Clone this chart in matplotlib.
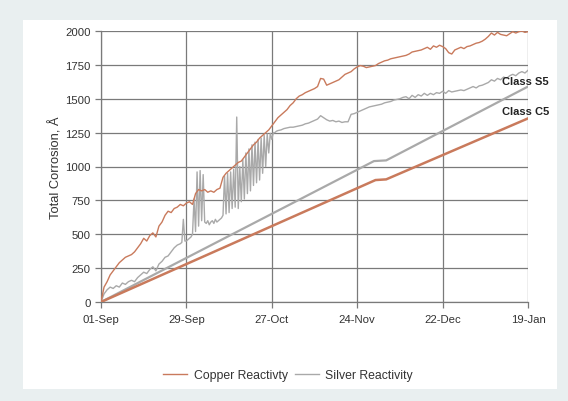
import matplotlib
matplotlib.use("Agg")
import matplotlib.pyplot as plt
from matplotlib.patches import Rectangle

plt.rcParams['font.family'] = ['Liberation Sans', 'DejaVu Sans']

# Daily copper readings, days since 01-Sep
copper = [0, 110, 150, 200, 230, 260, 290, 310, 330, 340,
          350, 370, 400, 430, 470, 450, 490, 510, 480, 560,
          590, 640, 670, 660, 690, 700, 720, 710, 730, 740,
          720, 800, 830, 820, 830, 810, 820, 810, 830, 840,
          920, 950, 970, 990, 1010, 1030, 1040, 1070, 1100, 1130,
          1160, 1180, 1210, 1230, 1250, 1270, 1300, 1330, 1360, 1380,
          1400, 1420, 1450, 1470, 1500, 1520, 1530, 1545, 1555, 1565,
          1575, 1590, 1650, 1645, 1600, 1610, 1620, 1630, 1640, 1660,
          1680, 1690, 1700, 1720, 1735, 1745, 1740, 1730, 1735, 1740,
          1745, 1760, 1770, 1780, 1785, 1795, 1800, 1805, 1810, 1815,
          1820, 1830, 1845, 1850, 1855, 1860, 1870, 1880, 1865, 1890,
          1880, 1895, 1885, 1870, 1840, 1830, 1860, 1870, 1880, 1870,
          1885, 1890, 1900, 1910, 1915, 1925, 1940, 1960, 1985, 1970,
          1990, 1975, 1970, 1965, 1980, 1995, 1985, 1995, 2000, 1990,
          1995]
copper_days = list(range(len(copper)))

# Silver readings: daily, except twice-daily between day 26 and day 57.5
silver_days = (list(range(0, 26))
               + [26 + 0.5 * i for i in range(64)]
               + list(range(58, 141)))
silver = [0, 60, 90, 110, 100, 120, 110, 140, 130, 150,
          160, 150, 180, 200, 220, 210, 240, 260, 230, 280,
          300, 330, 340, 370, 400, 420,
          # twice-daily block, day 26.0 .. 57.5
          430, 440, 610, 450, 450, 460, 470, 480,
          500, 760, 520, 960, 560, 970, 600, 940,
          590, 580, 600, 570, 590, 600, 580, 610,
          590, 600, 610, 620, 640, 930, 650, 950,
          660, 960, 690, 980, 700, 1365, 690, 1000,
          740, 1050, 760, 1100, 800, 1130, 820, 1160,
          860, 1180, 880, 1200, 900, 1210, 950, 1230,
          1000, 1240, 1100, 1245, 1200, 1250, 1250, 1260,
          # daily again from day 58
          1265, 1270,
          1280, 1285, 1290, 1290, 1295, 1300, 1305, 1315, 1320, 1330,
          1340, 1350, 1375, 1360, 1345, 1335, 1340, 1330, 1335, 1325,
          1330, 1330, 1385, 1390, 1400, 1410, 1420, 1430, 1440, 1445,
          1450, 1455, 1460, 1470, 1475, 1480, 1490, 1495, 1500, 1510,
          1515, 1500, 1525, 1510, 1530, 1520, 1540, 1525, 1540, 1530,
          1545, 1540, 1555, 1540, 1560, 1550, 1555, 1560, 1565, 1560,
          1570, 1580, 1590, 1580, 1595, 1600, 1610, 1620, 1640, 1630,
          1650, 1640, 1660, 1650, 1670, 1680, 1670, 1690, 1700, 1690,
          1710]

# Class limit lines
s5_days = [0, 89.5, 93.5, 140]
s5_values = [0, 1040, 1045, 1590]
c5_days = [0, 90, 93.5, 140]
c5_values = [0, 900, 905, 1355]

tick_days = [0, 28, 56, 84, 112, 140]
tick_labels = ["01-Sep", "29-Sep", "27-Oct", "24-Nov", "22-Dec", "19-Jan"]
y_ticks = [0, 250, 500, 750, 1000, 1250, 1500, 1750, 2000]

copper_color = "#c97a5c"
silver_color = "#a9a9a9"

fig = plt.figure(figsize=(5.68, 4.02), dpi=100)
fig.patch.set_facecolor("#e9eff0")
panel = Rectangle((23 / 568, 1 - 390 / 402), (557 - 23) / 568, (390 - 21) / 402,
                  transform=fig.transFigure, facecolor="white",
                  edgecolor="none", zorder=-10)
fig.add_artist(panel)

ax = fig.add_axes([101 / 568, 1 - 303 / 402, (528 - 101) / 568, (303 - 32) / 402])
ax.set_zorder(1)
ax.set_facecolor("white")

ax.plot(copper_days, copper, color=copper_color, lw=1.0, label="Copper Reactivty", zorder=4)
ax.plot(silver_days, silver, color=silver_color, lw=1.0, label="Silver Reactivity", zorder=3)
ax.plot(s5_days, s5_values, color=silver_color, lw=1.6, zorder=3)
ax.plot(c5_days, c5_values, color=copper_color, lw=1.8, zorder=3)

ax.set_xlim(0, 140)
ax.set_ylim(0, 2000)
ax.set_xticks(tick_days)
ax.set_xticklabels(tick_labels)
ax.set_yticks(y_ticks)
ax.grid(True, color="#7a7a7a", lw=0.9)
ax.set_axisbelow(True)
for side in ["top", "right"]:
    ax.spines[side].set_visible(False)
for side in ["left", "bottom"]:
    ax.spines[side].set_color("#7a7a7a")
    ax.spines[side].set_linewidth(0.9)
ax.tick_params(colors="#7a7a7a", labelcolor="#333333", labelsize=8.2, length=4, width=0.9)
ax.tick_params(axis="x", pad=5)

ax.set_ylabel("Total Corrosion, Å", fontsize=9.3, color="#333333", labelpad=2)

ax.text(131.5, 1630, "Class S5", fontsize=8, fontweight="bold", color="#222222",
        va="center", ha="left", clip_on=False, zorder=6)
ax.text(131.5, 1410, "Class C5", fontsize=8, fontweight="bold", color="#222222",
        va="center", ha="left", clip_on=False, zorder=6)

handles, labels = ax.get_legend_handles_labels()
leg = fig.legend(handles, labels, loc="center", bbox_to_anchor=(288 / 568, 1 - 376 / 402),
                 ncol=2, frameon=False, fontsize=8.8, handlelength=2.0, columnspacing=0.6,
                 handletextpad=0.5, labelcolor="#333333")
leg.set_zorder(5)

fig.savefig("out.png", dpi=100, facecolor=fig.get_facecolor())
